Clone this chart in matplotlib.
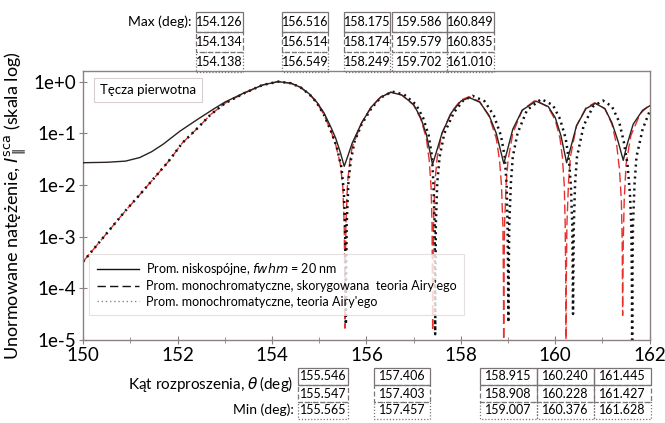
import matplotlib
matplotlib.use("Agg")
import matplotlib.pyplot as plt
from matplotlib.lines import Line2D
from matplotlib.patches import Rectangle

plt.rcParams['font.family'] = ['Lato', 'DejaVu Sans']
plt.rcParams['mathtext.fontset'] = 'dejavusans'

# --- dane ---
# promieniowanie niskospojne (linia ciagla)
solid_x = [150.0, 150.5, 150.9, 151.2, 151.45, 151.7, 152.05, 152.4, 152.75, 153.0, 153.4, 153.8,
           154.13, 154.4, 154.6, 154.8, 154.95, 155.1, 155.25, 155.35, 155.45, 155.53,
           155.6, 155.7, 155.9, 156.1, 156.3, 156.52, 156.75, 157.0, 157.15, 157.27,
           157.4, 157.47, 157.6, 157.8, 158.0, 158.18, 158.4, 158.6, 158.75, 158.91,
           158.98, 159.1, 159.3, 159.59, 159.85, 160.0, 160.12, 160.24, 160.32, 160.45,
           160.65, 160.85, 161.05, 161.2, 161.33, 161.44, 161.52, 161.65, 161.85, 162.0]
solid_y = [0.027, 0.0275, 0.029, 0.034, 0.044, 0.062, 0.11, 0.18, 0.29, 0.40, 0.60, 0.86,
           1.0, 0.93, 0.78, 0.57, 0.40, 0.25, 0.13, 0.08, 0.042, 0.023,
           0.035, 0.065, 0.16, 0.32, 0.50, 0.62, 0.55, 0.36, 0.20, 0.095,
           0.025, 0.04, 0.10, 0.25, 0.42, 0.49, 0.40, 0.22, 0.10, 0.026,
           0.045, 0.12, 0.28, 0.42, 0.33, 0.20, 0.09, 0.027, 0.05, 0.14,
           0.30, 0.38, 0.30, 0.16, 0.07, 0.030, 0.06, 0.15, 0.28, 0.34]

# monochromatyczne, skorygowana teoria Airy'ego (przerywana, czerwona)
dash_x = [150.0, 150.3, 150.6, 150.9, 151.2, 151.5, 151.8, 152.1, 152.4, 152.7,
          153.0, 153.4, 153.8, 154.134, 154.4, 154.6, 154.8, 154.95, 155.1, 155.25,
          155.35, 155.45, 155.5, 155.53, 155.542, 155.547, 155.552, 155.565, 155.6, 155.65,
          155.7, 155.9, 156.1, 156.3, 156.514, 156.75, 157.0, 157.15, 157.27, 157.33,
          157.37, 157.39, 157.398, 157.403, 157.408, 157.42, 157.45, 157.5, 157.6, 157.8,
          158.0, 158.174, 158.4, 158.6, 158.75, 158.82, 158.86, 158.89, 158.903, 158.908,
          158.913, 158.926, 158.96, 159.0, 159.1, 159.3, 159.579, 159.85, 160.0, 160.1,
          160.15, 160.19, 160.21, 160.223, 160.228, 160.233, 160.246, 160.28, 160.32, 160.45,
          160.65, 160.835, 161.05, 161.2, 161.3, 161.36, 161.4, 161.417, 161.422, 161.427,
          161.432, 161.44, 161.46, 161.5, 161.6, 161.8, 162.0]
dash_y = [3.3e-4, 7.0e-4, 1.5e-3, 3.2e-3, 6.5e-3, 1.35e-2, 2.8e-2, 6.5e-2, 0.12, 0.23,
          0.38, 0.59, 0.86, 1.0, 0.93, 0.78, 0.56, 0.39, 0.23, 0.11,
          0.06, 0.025, 0.009, 0.0017, 1.2e-4, 1.7e-5, 1.2e-4, 0.0017, 0.011, 0.03,
          0.055, 0.16, 0.32, 0.50, 0.63, 0.55, 0.35, 0.19, 0.08, 0.03,
          0.009, 0.0017, 1.2e-4, 1.5e-5, 1.2e-4, 0.0017, 0.011, 0.035, 0.10, 0.26,
          0.44, 0.51, 0.41, 0.21, 0.08, 0.03, 0.01, 0.0017, 1.2e-4, 4e-6,
          1.2e-4, 0.0017, 0.011, 0.03, 0.10, 0.28, 0.44, 0.32, 0.18, 0.08,
          0.035, 0.01, 0.0017, 1.2e-4, 4e-6, 1.2e-4, 0.0017, 0.011, 0.035, 0.14,
          0.31, 0.39, 0.30, 0.15, 0.06, 0.02, 0.005, 8e-4, 1.5e-4, 3e-5,
          1.5e-4, 8e-4, 0.005, 0.025, 0.09, 0.24, 0.36]

# monochromatyczne, teoria Airy'ego (kropkowana)
dot_x = [150.0, 150.3, 150.6, 150.9, 151.2, 151.5, 151.8, 152.1, 152.4, 152.7,
         153.0, 153.4, 153.8, 154.138, 154.4, 154.6, 154.8, 154.95, 155.1, 155.25,
         155.37, 155.47, 155.52, 155.548, 155.56, 155.565, 155.57, 155.582, 155.62, 155.67,
         155.75, 155.9, 156.1, 156.3, 156.549, 156.8, 157.05, 157.2, 157.32, 157.39,
         157.42, 157.445, 157.452, 157.457, 157.462, 157.47, 157.5, 157.55, 157.65, 157.85,
         158.05, 158.249, 158.5, 158.7, 158.85, 158.93, 158.97, 158.99, 159.002, 159.007,
         159.012, 159.025, 159.06, 159.1, 159.2, 159.4, 159.702, 159.95, 160.1, 160.22,
         160.29, 160.33, 160.36, 160.371, 160.376, 160.381, 160.393, 160.42, 160.46, 160.6,
         160.8, 161.01, 161.2, 161.35, 161.45, 161.53, 161.58, 161.61, 161.623, 161.628,
         161.633, 161.646, 161.68, 161.72, 161.85, 162.0]
dot_y = [3.3e-4, 7.0e-4, 1.5e-3, 3.2e-3, 6.5e-3, 1.35e-2, 2.8e-2, 6.5e-2, 0.12, 0.23,
         0.38, 0.59, 0.86, 1.0, 0.93, 0.78, 0.56, 0.39, 0.23, 0.11,
         0.055, 0.022, 0.008, 0.0017, 1.2e-4, 2e-5, 1.2e-4, 0.0017, 0.012, 0.03,
         0.07, 0.15, 0.30, 0.49, 0.64, 0.56, 0.36, 0.20, 0.09, 0.035,
         0.01, 0.0017, 1.2e-4, 1.3e-5, 1.2e-4, 0.0017, 0.011, 0.035, 0.10, 0.25,
         0.43, 0.53, 0.42, 0.22, 0.09, 0.035, 0.01, 0.0017, 1.2e-4, 2.2e-5,
         1.2e-4, 0.0017, 0.011, 0.035, 0.10, 0.28, 0.46, 0.35, 0.19, 0.08,
         0.03, 0.01, 0.0017, 1.2e-4, 3.2e-5, 1.2e-4, 0.0017, 0.011, 0.035, 0.14,
         0.33, 0.43, 0.33, 0.17, 0.07, 0.025, 0.007, 0.0017, 1.2e-4, 4e-6,
         1.2e-4, 0.0017, 0.011, 0.035, 0.12, 0.27]

# tabelki z polozeniami maksimow i minimow
max_rows = [["154.126", "156.516", "158.175", "159.586", "160.849"],
            ["154.134", "156.514", "158.174", "159.579", "160.835"],
            ["154.138", "156.549", "158.249", "159.702", "161.010"]]
min_rows = [["155.546", "157.406", "158.915", "160.240", "161.445"],
            ["155.547", "157.403", "158.908", "160.228", "161.427"],
            ["155.565", "157.457", "159.007", "160.376", "161.628"]]
legend_labels = ["Prom. niskospójne, $\\it{fwhm}$ = 20 nm",
                 "Prom. monochromatyczne, skorygowana  teoria Airy'ego",
                 "Prom. monochromatyczne, teoria Airy'ego"]

spine_c = '#8c8080'

fig = plt.figure(figsize=(6.65, 4.23), dpi=100)
ax = fig.add_axes([0.125, 0.196, 0.852, 0.636])

ax.plot(solid_x, solid_y, color='#2b2222', lw=1.0, zorder=3)
ax.plot(dash_x, dash_y, color='#e8302c', lw=1.0, ls=(0, (7, 3)), zorder=2)
ax.plot(dot_x, dot_y, color='#111111', lw=1.8, ls=(0, (0.8, 1.6)), zorder=2)

ax.set_yscale('log')
ax.set_xlim(150, 162)
ax.set_ylim(1e-5, 1.6)
ax.set_xticks([150, 152, 154, 156, 158, 160, 162])
ax.set_xticks([151, 153, 155, 157, 159, 161], minor=True)
ax.set_yticks([1e-5, 1e-4, 1e-3, 1e-2, 1e-1, 1e0])
ax.set_yticklabels(['1e-5', '1e-4', '1e-3', '1e-2', '1e-1', '1e+0'])
ax.yaxis.set_minor_locator(matplotlib.ticker.NullLocator())
ax.tick_params(axis='both', which='major', labelsize=13.5, color=spine_c,
               direction='inout', length=6, pad=2)
ax.tick_params(axis='x', which='minor', color=spine_c, direction='inout', length=4)
for s in ax.spines.values():
    s.set_color(spine_c)
    s.set_linewidth(1.0)

ax.set_ylabel('Unormowane natężenie, $I_{\\parallel}^{\\rm sca}$ (skala log)',
              fontsize=13, labelpad=4)
fig.text(0.192, 0.092, 'Kąt rozproszenia, $\\theta\\,$(deg)', fontsize=11,
         ha='left', va='center')

ax.text(0.03, 0.93, 'Tęcza pierwotna', transform=ax.transAxes, fontsize=9.5,
        ha='left', va='center',
        bbox=dict(boxstyle='square,pad=0.45', fc='white', ec='#d8d0d0', lw=0.8))

handles = [Line2D([], [], color='#111111', lw=1.0),
           Line2D([], [], color='#111111', lw=1.0, ls=(0, (6, 3))),
           Line2D([], [], color='#888888', lw=1.0, ls=(0, (1, 2)))]
leg = ax.legend(handles, legend_labels, loc='lower left', bbox_to_anchor=(0.0, 0.07),
                fontsize=9, frameon=True, fancybox=False, handlelength=3.4,
                handletextpad=0.5, labelspacing=0.25, borderpad=0.6)
leg.get_frame().set_edgecolor('#e0d8d8')
leg.get_frame().set_linewidth(0.8)

# tabelki w pikselach figury
ov = fig.add_axes([0, 0, 1, 1], facecolor='none')
ov.set_xlim(0, 665)
ov.set_ylim(423, 0)
ov.axis('off')

row_styles = ['-', (0, (4, 2)), (0, (1, 1.5))]
tab_c = '#7a7474'


def draw_table(rows, cols, tops, h):
    for r in (2, 1, 0):
        for (x0, x1), val in zip(cols, rows[r]):
            ov.add_patch(Rectangle((x0, tops[r]), x1 - x0, h, fill=False,
                                   ec=tab_c, lw=0.9, ls=row_styles[r]))
            ov.text((x0 + x1) / 2, tops[r] + h / 2, val, fontsize=9,
                    ha='center', va='center')


max_cols = [(196, 243), (282, 328), (344, 390), (392, 447), (447, 494)]
min_cols = [(298, 348), (374, 430), (480, 537), (537, 594), (594, 651)]
draw_table(max_rows, max_cols, [12, 32, 52], 20)
draw_table(min_rows, min_cols, [368, 385, 402], 17)
ov.text(192, 22, 'Max (deg):', fontsize=10, ha='right', va='center')
ov.text(294, 410, 'Min (deg):', fontsize=10, ha='right', va='center')

fig.savefig('out.png', dpi=100, facecolor='white')
